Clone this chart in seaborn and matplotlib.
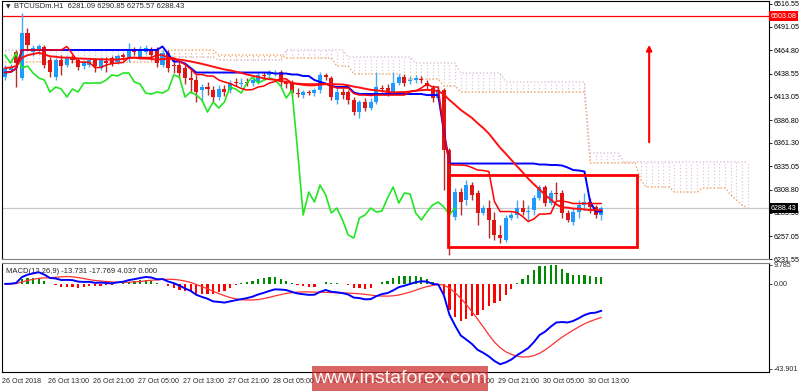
import numpy as np
import pandas as pd
import matplotlib
matplotlib.use("Agg")
import matplotlib.pyplot as plt
import seaborn as sns
from matplotlib.patches import Rectangle

sns.set_style("white")
plt.rcParams['font.family'] = ['Liberation Sans', 'DejaVu Sans']

# ---------------- data (BTCUSDm, H1) ----------------
open_ = [6434.9, 6442.8, 6462.9, 6433.8, 6484.1, 6462.9, 6465.1, 6468.5, 6453.9, 6434.9,
         6453.9, 6448.4, 6456.2, 6453.9, 6447.2, 6448.4, 6453.9, 6445.0, 6452.8, 6456.2,
         6451.7, 6459.5, 6456.2, 6465.1, 6457.3, 6462.9, 6466.2, 6465.1, 6448.4, 6461.8,
         6448.4, 6448.4, 6445.0, 6433.8, 6431.6, 6420.4, 6423.8, 6420.4, 6412.6, 6421.5,
         6420.4, 6429.4, 6427.1, 6429.4, 6428.2, 6429.4, 6437.2, 6437.2, 6438.3, 6440.5,
         6429.4, 6428.2, 6417.1, 6414.8, 6418.2, 6417.1, 6420.4, 6437.2, 6433.8, 6409.2,
         6418.2, 6418.2, 6409.2, 6395.8, 6407.0, 6400.3, 6407.0, 6422.7, 6422.7, 6418.2,
         6428.2, 6434.9, 6430.5, 6431.6, 6432.7, 6428.2, 6422.7, 6411.5, 6420.4, 6353.4,
         6278.5, 6306.4, 6297.5, 6314.2, 6305.3, 6283.0, 6288.5, 6275.1, 6258.4, 6252.8,
         6277.4, 6280.7, 6288.5, 6284.1, 6286.3, 6299.7, 6312.0, 6294.1, 6305.3, 6305.3,
         6283.0, 6272.9, 6284.1, 6291.9, 6295.2, 6289.7, 6281.09]
high = [6448.4, 6449.5, 6465.1, 6506.5, 6489.7, 6470.7, 6471.8, 6470.7, 6457.3, 6456.2,
        6459.5, 6458.4, 6459.5, 6456.2, 6453.9, 6456.2, 6456.2, 6457.3, 6457.3, 6458.4,
        6460.6, 6461.8, 6472.9, 6468.5, 6469.6, 6470.7, 6468.5, 6468.5, 6465.1, 6465.1,
        6456.2, 6451.7, 6448.4, 6442.8, 6437.2, 6427.1, 6429.4, 6424.9, 6426.0, 6426.0,
        6431.6, 6433.8, 6433.8, 6433.8, 6434.9, 6440.5, 6440.5, 6442.8, 6442.8, 6442.8,
        6431.6, 6431.6, 6422.7, 6420.4, 6420.4, 6422.7, 6440.5, 6439.4, 6436.1, 6422.7,
        6422.7, 6420.4, 6412.6, 6409.2, 6411.5, 6411.5, 6440.5, 6426.0, 6427.1, 6440.5,
        6438.3, 6438.3, 6436.1, 6437.2, 6436.1, 6431.6, 6426.0, 6424.9, 6422.7, 6355.6,
        6310.9, 6310.9, 6319.8, 6317.6, 6308.7, 6291.9, 6297.5, 6284.1, 6269.5, 6280.7,
        6284.1, 6297.5, 6297.5, 6291.9, 6303.1, 6314.2, 6314.2, 6308.7, 6317.6, 6308.7,
        6286.3, 6288.5, 6297.5, 6305.3, 6299.7, 6291.9, 6290.85]
low = [6431.6, 6440.5, 6423.8, 6431.6, 6465.1, 6458.4, 6460.6, 6445.0, 6434.9, 6431.6,
       6437.2, 6446.1, 6450.6, 6442.8, 6443.9, 6446.1, 6440.5, 6442.8, 6440.5, 6447.2,
       6449.5, 6453.9, 6451.7, 6459.5, 6455.1, 6460.6, 6453.9, 6446.1, 6446.1, 6440.5,
       6439.4, 6433.8, 6427.1, 6417.1, 6407.0, 6407.0, 6414.8, 6407.0, 6409.2, 6413.7,
       6417.1, 6424.9, 6423.8, 6424.9, 6424.9, 6427.1, 6431.6, 6433.8, 6436.1, 6424.9,
       6422.7, 6413.7, 6412.6, 6411.5, 6414.8, 6413.7, 6417.1, 6431.6, 6409.2, 6404.8,
       6410.4, 6404.8, 6392.5, 6389.1, 6396.9, 6398.1, 6404.8, 6418.2, 6413.7, 6415.9,
       6426.0, 6424.9, 6427.1, 6428.2, 6428.2, 6420.4, 6407.0, 6409.2, 6308.7, 6236.0,
       6275.1, 6280.7, 6291.9, 6297.5, 6269.5, 6280.7, 6255.0, 6252.8, 6249.4, 6250.5,
       6275.1, 6277.4, 6280.7, 6275.1, 6280.7, 6297.5, 6290.8, 6291.9, 6297.5, 6277.4,
       6272.9, 6269.5, 6277.4, 6286.3, 6283.0, 6277.4, 6275.57]
close = [6445.0, 6446.1, 6450.6, 6484.1, 6470.7, 6467.4, 6469.6, 6448.4, 6440.5, 6453.9,
         6447.2, 6456.2, 6453.9, 6446.1, 6451.7, 6453.9, 6447.2, 6453.9, 6450.6, 6449.5,
         6458.4, 6457.3, 6465.1, 6462.9, 6466.2, 6467.4, 6459.5, 6450.6, 6461.8, 6445.0,
         6447.2, 6439.4, 6433.8, 6431.6, 6418.2, 6423.8, 6421.5, 6412.6, 6421.5, 6418.2,
         6428.2, 6428.2, 6428.2, 6428.2, 6431.6, 6437.2, 6436.1, 6439.4, 6439.4, 6429.4,
         6427.1, 6417.1, 6415.9, 6418.2, 6417.1, 6420.4, 6437.2, 6434.9, 6412.6, 6418.2,
         6414.8, 6409.2, 6395.8, 6407.0, 6400.3, 6407.0, 6423.8, 6421.5, 6417.1, 6428.2,
         6434.9, 6428.2, 6431.6, 6433.8, 6431.6, 6424.9, 6411.5, 6420.4, 6353.4, 6280.7,
         6306.4, 6295.2, 6314.2, 6303.1, 6283.0, 6288.5, 6275.1, 6258.4, 6255.0, 6277.4,
         6280.7, 6288.5, 6284.1, 6285.2, 6299.7, 6312.0, 6294.1, 6305.3, 6304.2, 6283.0,
         6275.1, 6284.1, 6291.9, 6295.2, 6289.7, 6281.1, 6288.43]

# Ichimoku cloud (Senkou spans), read as step segments: start bar / value
span_a_start = [0, 28, 38, 50, 59, 62, 71, 78, 81, 104, 113, 114, 119, 124, 129, 130, 131, 132]
span_a_value = [6451.7, 6465.1, 6459.5, 6456.2, 6447.2, 6438.3, 6432.7, 6424.9, 6418.2, 6338.9,
                6319.9, 6312.0, 6306.4, 6310.9, 6303.1, 6297.5, 6291.9, 6288.5]
span_b_start = [0, 28, 38, 50, 61, 73, 81, 89, 104, 110]
span_b_value = [6465.1, 6457.3, 6453.9, 6465.1, 6457.3, 6450.6, 6439.4, 6429.4, 6350.0, 6340.0]
cloud_end = 133

price_ticks = [6516.55, 6491.05, 6464.80, 6438.55, 6413.05, 6386.80, 6361.30,
               6335.05, 6308.80, 6283.30, 6257.05, 6231.55]
macd_ticks = [9.785, 0.0, -43.901]
macd_tick_labels = ["9.785", "0.00", "-43.901"]
time_labels = ["26 Oct 2018", "26 Oct 13:00", "26 Oct 21:00", "27 Oct 05:00", "27 Oct 13:00",
               "27 Oct 21:00", "28 Oct 05:00", "28 Oct 13:00", "28 Oct 21:00", "29 Oct 05:00",
               "29 Oct 13:00", "29 Oct 21:00", "30 Oct 05:00", "30 Oct 13:00"]
time_label_bars = [-0.5, 7.6, 15.6, 23.6, 31.6, 39.6, 47.6, 55.6, 63.6, 71.6, 79.6, 87.6, 95.6, 103.6]

level_line = 6503.08
rect_bars = (78.8, 112.4)
rect_prices = (6245.0, 6325.4)
arrow_bar = 114.5
arrow_prices = (6359.0, 6474.0)

# ---------------- derived indicators ----------------
df = pd.DataFrame({"o": open_, "h": high, "l": low, "c": close})
df["x"] = np.arange(len(df))
df["tenkan"] = (df["h"].rolling(9, min_periods=1).max() + df["l"].rolling(9, min_periods=1).min()) / 2
df["kijun"] = (df["h"].rolling(26, min_periods=1).max() + df["l"].rolling(26, min_periods=1).min()) / 2
df["ma"] = df["c"].rolling(21, min_periods=1).mean()
ema12 = df["c"].ewm(span=12, adjust=False).mean()
ema26 = df["c"].ewm(span=26, adjust=False).mean()
df["macd"] = ema12 - ema26
df["signal"] = df["macd"].rolling(9, min_periods=1).mean()
df["histo"] = df["macd"] - df["signal"]

chikou = pd.DataFrame({"x": np.arange(len(df) - 26), "y": df["c"].values[26:]})

def steps(starts, values, end):
    lens = np.diff(list(starts) + [end])
    return np.repeat(values, lens)

span_a = steps(span_a_start, span_a_value, cloud_end)
span_b = steps(span_b_start, span_b_value, cloud_end)
cx = np.arange(cloud_end)

# ---------------- figure ----------------
W, H = 800, 391
fig = plt.figure(figsize=(8, 3.91), dpi=100)
ax = fig.add_axes([2 / W, 1 - 259 / H, 767 / W, 258 / H])
axm = fig.add_axes([2 / W, 1 - 372 / H, 767 / W, 109 / H])
xlim = (-0.53, 135.8)
fs = 5.1

# cloud
sandy, thistle = "#f4a460", "#d8bfd8"
cols = [thistle if b > a else sandy for a, b in zip(span_a, span_b)]
ax.vlines(cx, np.minimum(span_a, span_b), np.maximum(span_a, span_b), colors=cols,
          linestyles=(0, (1, 2)), linewidth=0.8, zorder=1)
ax.plot(cx, span_a, color=sandy, linestyle=(0, (1, 1.5)), linewidth=1.0, zorder=1.5)
ax.plot(cx, span_b, color=thistle, linestyle=(0, (1, 1.5)), linewidth=1.0, zorder=1.5)

# level lines
ax.axhline(level_line, color="#ff0000", linewidth=0.9, zorder=2)
ax.axhline(close[-1], color="#c8c8c8", linewidth=0.9, zorder=2)

# candles
up = (df["c"] >= df["o"]).values
bull, bear = "#1e9bff", "#e01515"
ccol = np.where(up, bull, bear)
wcol = np.where(up, "#4aa8f0", "#b82a2a")
ax.vlines(df["x"], df["l"], df["h"], colors=wcol, linewidth=1.0, zorder=3)
body_lo = np.minimum(df["o"], df["c"])
body_h = np.maximum(np.abs(df["c"] - df["o"]), 0.9)
ax.bar(df["x"], body_h, bottom=body_lo, width=0.72, color=ccol, linewidth=0, zorder=3.5)

# indicator lines
sns.lineplot(data=chikou, x="x", y="y", ax=ax, color="#22e622", linewidth=1.2, zorder=4, legend=False)
sns.lineplot(data=df, x="x", y="kijun", ax=ax, color="#0000ff", linewidth=1.4, zorder=4, legend=False)
sns.lineplot(data=df, x="x", y="tenkan", ax=ax, color="#ff0000", linewidth=1.1, zorder=4.2, legend=False)
sns.lineplot(data=df, x="x", y="ma", ax=ax, color="#ff1010", linewidth=1.4, zorder=4.1, legend=False)

# annotations
ax.add_patch(Rectangle((rect_bars[0], rect_prices[0]), rect_bars[1] - rect_bars[0],
                       rect_prices[1] - rect_prices[0], fill=False, edgecolor="#ff0000",
                       linewidth=2.0, zorder=5))
ax.annotate("", xy=(arrow_bar, arrow_prices[1]), xytext=(arrow_bar, arrow_prices[0]),
            arrowprops=dict(arrowstyle="-|>", color="#ff0000", lw=1.5, mutation_scale=8), zorder=5)

ax.set_xlim(*xlim)
ax.set_ylim(6231.55, 6519.9)
ax.yaxis.tick_right()
ax.set_yticks(price_ticks)
ax.set_yticklabels([f"{t:.2f}" for t in price_ticks])
ax.tick_params(axis="y", direction="out", length=2.5, width=0.6, labelsize=fs, pad=1, colors="black")
ax.set_xticks([])
ax.set_xlabel("")
ax.set_ylabel("")
for s in ax.spines.values():
    s.set_color("black")
    s.set_linewidth(0.8)
ax.spines["bottom"].set_color("#808080")

trans = ax.get_yaxis_transform()
ax.text(1.002, level_line, f"{level_line:.2f}", transform=trans, fontsize=fs, color="white",
        va="center", ha="left", zorder=10, clip_on=False,
        bbox=dict(boxstyle="square,pad=0.2", fc="#ff0000", ec="none"))
ax.text(1.002, close[-1], f"{close[-1]:.2f}", transform=trans, fontsize=fs, color="white",
        va="center", ha="left", zorder=10, clip_on=False,
        bbox=dict(boxstyle="square,pad=0.2", fc="black", ec="none"))

ax.text(0.005, 0.978, "\u25BC", transform=ax.transAxes, fontsize=4.2, va="center", ha="left",
        family="DejaVu Sans")
ax.text(0.016, 0.978, "BTCUSDm.H1  6281.09 6290.85 6275.57 6288.43",
        transform=ax.transAxes, fontsize=fs + 0.4, va="center", ha="left")

# MACD panel
hcol = np.where(df["histo"].values >= 0, "#008a00", "#ff0000")
axm.bar(df["x"], df["histo"], width=0.4, color=hcol, linewidth=0, zorder=2)
sns.lineplot(data=df, x="x", y="signal", ax=axm, color="#ff3030", linewidth=0.9, zorder=3, legend=False)
sns.lineplot(data=df, x="x", y="macd", ax=axm, color="#0000ff", linewidth=1.4, zorder=4, legend=False)
axm.set_xlim(*xlim)
axm.set_ylim(-45.45, 10.8)
axm.yaxis.tick_right()
axm.set_yticks(macd_ticks)
axm.set_yticklabels(macd_tick_labels)
axm.tick_params(axis="y", direction="out", length=2.5, width=0.6, labelsize=fs, pad=1)
axm.set_xticks(time_label_bars)
axm.set_xticklabels(time_labels, ha="left")
axm.tick_params(axis="x", direction="out", length=3, width=0.6, labelsize=fs, pad=1.5)
axm.set_xlabel("")
axm.set_ylabel("")
for s in axm.spines.values():
    s.set_color("black")
    s.set_linewidth(0.8)
axm.spines["top"].set_color("#808080")
axm.text(0.005, 0.92, "MACD(12,26,9) -13.731 -17.769 4.037 0.000", transform=axm.transAxes,
         fontsize=fs + 0.4, va="center", ha="left")

# watermark
fig.patches.append(Rectangle((312 / W, 0), 176 / W, 25 / H, transform=fig.transFigure,
                             facecolor="#cc2a2a", alpha=0.72, edgecolor="none", zorder=20))
fig.text(400 / W, 12.5 / H, "www.instaforex.com", color="white", fontsize=14,
         ha="center", va="center", family=["Liberation Sans", "DejaVu Sans"], zorder=21, alpha=0.95)

fig.savefig("out.png", dpi=100)
